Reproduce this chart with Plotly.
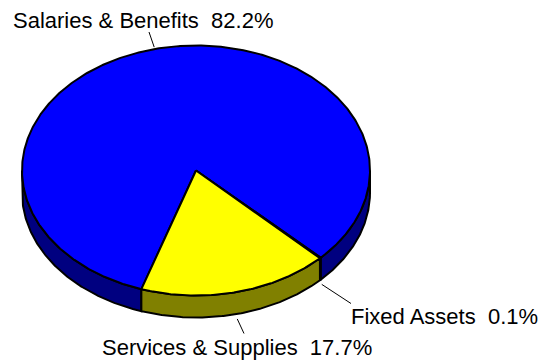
import numpy as np
import plotly.graph_objects as go

# Budget shares by category (percent), in clockwise drawing order
categories = ["Salaries & Benefits", "Fixed Assets", "Services & Supplies"]
shares = [82.2, 0.1, 17.7]
label_text = ["Salaries & Benefits  82.2%", "Fixed Assets  0.1%", "Services & Supplies  17.7%"]

top_colors = ["#0000FF", "#00FFFF", "#FFFF00"]
side_colors = ["#000080", "#008080", "#808000"]

# Pie geometry (pixel space, y grows downward)
CX, CY = 196.0, 170.5
RX, RY = 174.0, 125.0
DEPTH = 22.0
START_DEG = 108.3

# Label placement: anchor point of each label and end of its leader line
label_pos = {
    "Salaries & Benefits": dict(x=11.0, y=20.0, lx=149.0, ly=32.0, side="top"),
    "Fixed Assets": dict(x=348.5, y=316.0, lx=351.0, ly=303.5, side="front"),
    "Services & Supplies": dict(x=99.5, y=347.8, lx=244.0, ly=333.5, side="front"),
}

total = sum(shares)
spans = [360.0 * v / total for v in shares]
starts = START_DEG + np.concatenate([[0.0], np.cumsum(spans)[:-1]])


def arc(a, b, dy=0.0, n=None):
    if n is None:
        n = max(2, int(abs(b - a) * 2) + 2)
    t = np.radians(np.linspace(a, b, n))
    return CX + RX * np.cos(t), CY + RY * np.sin(t) + dy


fig = go.Figure()

# Side walls: only the front half (0..180 deg) is visible
for i, (s, w) in enumerate(zip(starts, spans)):
    a, b = s, s + w
    for off in (0.0, 360.0, -360.0):
        lo, hi = max(a, off + 0.0), min(b, off + 180.0)
        if hi > lo:
            xt, yt = arc(lo, hi)
            xb, yb = arc(hi, lo, DEPTH)
            xs = np.concatenate([xt, xb, xt[:1]])
            ys = np.concatenate([yt, yb, yt[:1]])
            fig.add_trace(go.Scatter(
                x=xs, y=ys, mode="lines", fill="toself",
                fillcolor=side_colors[i],
                line=dict(color="black", width=2),
                hoverinfo="skip", showlegend=False))

# Top face slices
for i, (s, w) in enumerate(zip(starts, spans)):
    xa, ya = arc(s, s + w)
    xs = np.concatenate([[CX], xa, [CX]])
    ys = np.concatenate([[CY], ya, [CY]])
    fig.add_trace(go.Scatter(
        x=xs, y=ys, mode="lines", fill="toself",
        fillcolor=top_colors[i],
        line=dict(color="black", width=2),
        name=categories[i], hoverinfo="skip", showlegend=False))

# Leader lines and labels
annotations = []
for i, cat in enumerate(categories):
    p = label_pos[cat]
    mid = np.radians(starts[i] + spans[i] / 2)
    sx = CX + (RX + 2) * np.cos(mid)
    sy = CY + (RY + 2) * np.sin(mid)
    if p["side"] == "front":
        sy += DEPTH + 3
    fig.add_trace(go.Scatter(
        x=[sx, p["lx"]], y=[sy, p["ly"]], mode="lines",
        line=dict(color="black", width=1),
        hoverinfo="skip", showlegend=False))
    annotations.append(dict(
        x=p["x"], y=p["y"], xref="x", yref="y",
        text=label_text[i], showarrow=False,
        xanchor="left", yanchor="middle",
        font=dict(family="Liberation Sans, Arial, sans-serif", size=22, color="black")))

fig.update_layout(
    width=549, height=360,
    margin=dict(l=0, r=0, t=0, b=0),
    paper_bgcolor="white", plot_bgcolor="white",
    xaxis=dict(range=[0, 549], visible=False, fixedrange=True),
    yaxis=dict(range=[360, 0], visible=False, fixedrange=True),
    annotations=annotations,
)

fig.write_html("out.html")
